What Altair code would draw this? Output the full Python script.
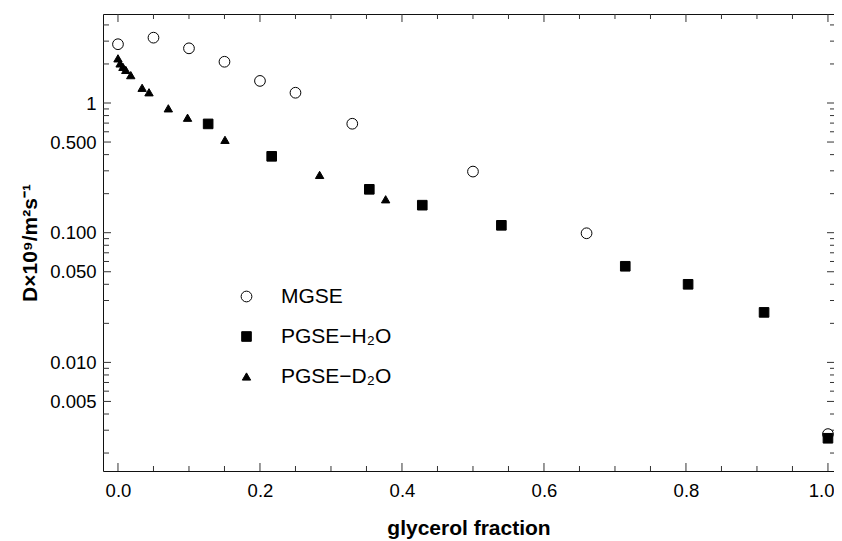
import altair as alt
import pandas as pd

# ---- data ----
series_names = ["MGSE", "PGSE−H₂O", "PGSE−D₂O"]

mgse_x = [0.0, 0.05, 0.10, 0.15, 0.20, 0.25, 0.33, 0.50, 0.66, 1.00]
mgse_y = [2.84, 3.19, 2.64, 2.08, 1.48, 1.20, 0.692, 0.296, 0.099, 0.0028]

h2o_x = [0.127, 0.2165, 0.354, 0.4286, 0.54, 0.7145, 0.803, 0.910, 1.00]
h2o_y = [0.69, 0.388, 0.216, 0.163, 0.114, 0.0551, 0.040, 0.0243, 0.0026]

d2o_x = [0.0, 0.003, 0.007, 0.011, 0.018, 0.034, 0.0437, 0.0709, 0.098, 0.1507, 0.284, 0.377]
d2o_y = [2.21, 2.02, 1.90, 1.80, 1.64, 1.31, 1.21, 0.91, 0.77, 0.52, 0.279, 0.181]

x_major = [0.0, 0.2, 0.4, 0.6, 0.8, 1.0]
x_minor = [0.05, 0.10, 0.15, 0.25, 0.30, 0.35, 0.45, 0.50, 0.55,
           0.65, 0.70, 0.75, 0.85, 0.90, 0.95]
y_major = [0.005, 0.01, 0.05, 0.1, 0.5, 1.0]
y_minor = [0.002, 0.003, 0.004, 0.006, 0.007, 0.008, 0.009,
           0.02, 0.03, 0.04, 0.06, 0.07, 0.08, 0.09,
           0.2, 0.3, 0.4, 0.6, 0.7, 0.8, 0.9,
           2.0, 3.0, 4.0]

rows = []
for name, xs, ys in [(series_names[0], mgse_x, mgse_y),
                     (series_names[1], h2o_x, h2o_y),
                     (series_names[2], d2o_x, d2o_y)]:
    for xv, yv in zip(xs, ys):
        rows.append({"series": name, "x": xv, "y": yv})
df = pd.DataFrame(rows)

W, H = 731, 457
FONT = "Liberation Sans"

xscale = alt.Scale(domain=[-0.0211, 1.0085], nice=False, zero=False)
yscale = alt.Scale(type="log", domain=[0.001454, 4.856], nice=False)

xaxis = alt.Axis(values=x_major, format=".1f", title="glycerol fraction",
                 ticks=False, domain=False, grid=False,
                 labelFlush=10, labelFlushOffset=6,
                 labelPadding=10, titlePadding=18)
yaxis = alt.Axis(values=y_major, title="D×10⁹/m²s⁻¹",
                 labelExpr="datum.value >= 1 ? '1' : format(datum.value, '.3f')",
                 ticks=False, domain=False, grid=False,
                 labelPadding=7, titlePadding=9)

leg = alt.Legend(
    orient="none", legendX=133, legendY=272, title=None,
    labelFontSize=21, labelFont=FONT, labelColor="black",
    symbolStrokeColor="black", symbolStrokeWidth=1,
    rowPadding=18, labelOffset=24, padding=0,
)

points = alt.Chart(df).mark_point(
    filled=True, stroke="black", strokeWidth=1, opacity=1
).encode(
    x=alt.X("x:Q", scale=xscale, axis=xaxis),
    y=alt.Y("y:Q", scale=yscale, axis=yaxis),
    shape=alt.Shape("series:N", scale=alt.Scale(domain=series_names,
                    range=["circle", "square", "triangle-up"]), legend=leg),
    fill=alt.Fill("series:N", scale=alt.Scale(domain=series_names,
                  range=["white", "black", "black"]), legend=leg),
    stroke=alt.Stroke("series:N", scale=alt.Scale(domain=series_names,
                      range=["black", "black", "black"]), legend=leg),
    size=alt.Size("series:N", scale=alt.Scale(domain=series_names,
                  range=[115, 70, 170]), legend=leg),
)


def xticks(vals, y0, y1):
    return alt.Chart(pd.DataFrame({"v": vals})).mark_rule(
        color="#333", strokeWidth=1
    ).encode(x=alt.X("v:Q", scale=xscale, axis=xaxis),
             y=alt.value(y0), y2=alt.value(y1))


def yticks(vals, x0, x1):
    return alt.Chart(pd.DataFrame({"v": vals})).mark_rule(
        color="#333", strokeWidth=1
    ).encode(y=alt.Y("v:Q", scale=yscale, axis=yaxis),
             x=alt.value(x0), x2=alt.value(x1))


ticks = [
    xticks(x_major, H, H - 8), xticks(x_minor, H, H - 5),
    xticks(x_major, 0, 8), xticks(x_minor, 0, 5),
    yticks(y_major, 0, 8), yticks(y_minor, 0, 6),
    yticks(y_major, W, W - 7), yticks(y_minor, W, W - 4),
]

chart = alt.layer(*ticks, points).properties(
    width=W, height=H,
    autosize=alt.AutoSizeParams(type="none"),
    padding={"left": 95, "top": 6, "right": 0, "bottom": 70},
).configure_view(
    stroke="#111", strokeWidth=1
).configure_axis(
    labelFont=FONT, labelFontSize=18.5, labelColor="black",
    titleFont=FONT, titleFontSize=21, titleFontWeight="bold", titleColor="black",
)

chart.save("out.html", embed_options={"renderer": "svg", "actions": False})
